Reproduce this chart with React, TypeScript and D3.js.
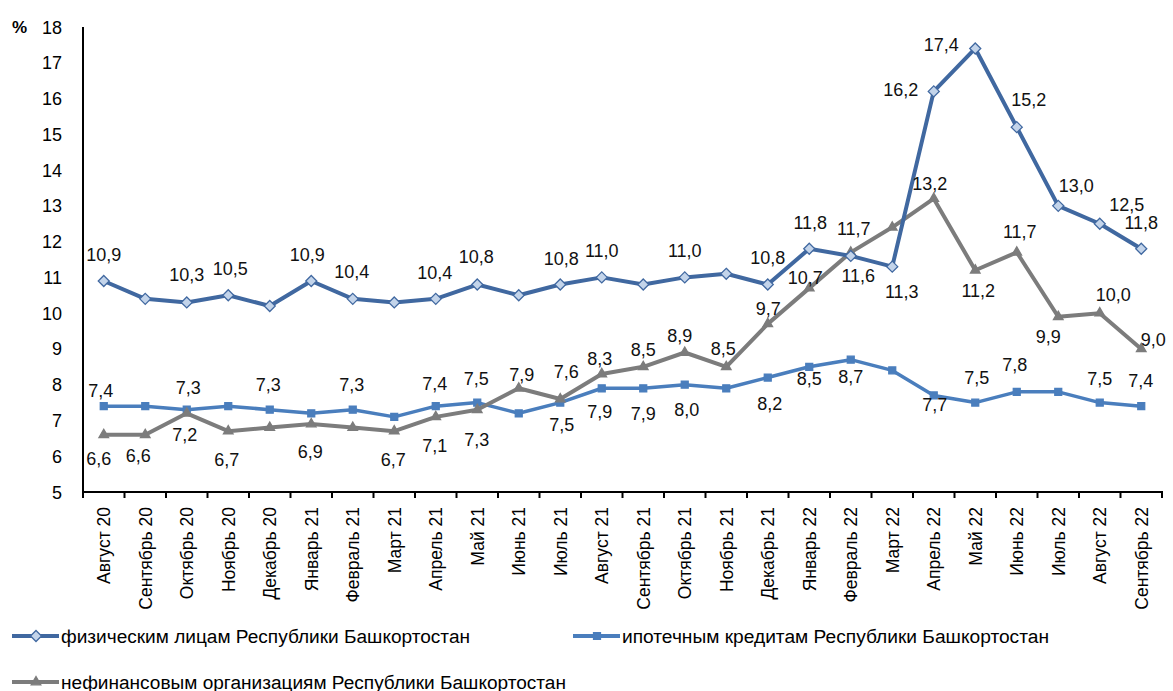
import React from "react";
import * as d3 from "d3";

// месяцы
const months = [
  "Август 20", "Сентябрь 20", "Октябрь 20", "Ноябрь 20", "Декабрь 20",
  "Январь 21", "Февраль 21", "Март 21", "Апрель 21", "Май 21", "Июнь 21",
  "Июль 21", "Август 21", "Сентябрь 21", "Октябрь 21", "Ноябрь 21",
  "Декабрь 21", "Январь 22", "Февраль 22", "Март 22", "Апрель 22", "Май 22",
  "Июнь 22", "Июль 22", "Август 22", "Сентябрь 22",
];

// ставки, %
const individuals = [10.9, 10.4, 10.3, 10.5, 10.2, 10.9, 10.4, 10.3, 10.4, 10.8, 10.5, 10.8, 11.0, 10.8, 11.0, 11.1, 10.8, 11.8, 11.6, 11.3, 16.2, 17.4, 15.2, 13.0, 12.5, 11.8];
const mortgage = [7.4, 7.4, 7.3, 7.4, 7.3, 7.2, 7.3, 7.1, 7.4, 7.5, 7.2, 7.5, 7.9, 7.9, 8.0, 7.9, 8.2, 8.5, 8.7, 8.4, 7.7, 7.5, 7.8, 7.8, 7.5, 7.4];
const nonFinancial = [6.6, 6.6, 7.2, 6.7, 6.8, 6.9, 6.8, 6.7, 7.1, 7.3, 7.9, 7.6, 8.3, 8.5, 8.9, 8.5, 9.7, 10.7, 11.7, 12.4, 13.2, 11.2, 11.7, 9.9, 10.0, 9.0];

const yTicks = [5, 6, 7, 8, 9, 10, 11, 12, 13, 14, 15, 16, 17, 18];

const legendNames = [
  "физическим лицам Республики Башкортостан",
  "ипотечным кредитам Республики Башкортостан",
  "нефинансовым организациям Республики Башкортостан",
];

// смещения подписей данных (null — подписи нет)
type Off = [number, number] | null;
const indLabels: Off[] = [
  [0, -20], null, [0, -21], [2, -20], null, [-4, -20], [-1, -21], null,
  [-1, -19.5], [-1, -22], null, [1, -20], [0, -20], null, [0, -20], null,
  [0, -21], [1, -20], [7.5, 26.5], [9.5, 31.5], [-33, 5], [-34, 3],
  [12, -21], [18, -13.5], [27, -12.5], [0, -20],
];
const mortLabels: Off[] = [
  [-3, -9.5], null, [1.5, -15.5], null, [-1.5, -18.5], null, [-1, -18.5], null,
  [-1, -16], [-1, -18], null, [1.5, 28], [-2, 30], [0, 31.5], [2, 31.5], null,
  [2, 32], [0, 18], [0, 23], null, [1, 15.5], [1.5, -18.5], [-2, -21], null,
  [0, -18], [-0.5, -19.5],
];
const nonFinLabels: Off[] = [
  [-5, 30.5], [-7, 27.5], [-2, 28], [-1.5, 35], null, [-1, 34], null,
  [-1, 34.5], [-1, 35], [-0.5, 36.5], [3, -7], [6, -21], [-2, -9], [0, -11],
  [-5, -11], [-3, -12], [0.5, -8.5], [-4, -4], [3, -17], null, [-4, -9],
  [3, 26.5], [3, -14], [-10, 26.5], [13.5, -12.5], [12, -3],
];

const W = 1173;
const H = 691;
const left = 83;
const right = 1162;
const top = 27;
const bottom = 492;

const DARK = "#4068a0";
const LIGHT = "#4a7ebd";
const GREY = "#7c7c7c";
const FONT = "'Liberation Sans', Arial, sans-serif";
const NARROW = "'Liberation Sans Narrow', 'Liberation Sans', Arial, sans-serif";

const x = d3.scaleBand<string>().domain(months).range([left, right]).padding(0);
const y = d3.scaleLinear().domain([5, 18]).range([bottom, top]);
const cx = (i: number) => (x(months[i]) as number) + x.bandwidth() / 2;
const fmt = (v: number) => d3.format(".1f")(v).replace(".", ",");

const line = d3
  .line<number>()
  .x((_, i) => cx(i))
  .y((d) => y(d));

// ромб как у Excel: квадрат, повёрнутый на 45°
const diamond = "M0,-5.5L5.5,0L0,5.5L-5.5,0Z";
const square = d3.symbol(d3.symbolSquare, 48)();
const triangle = d3.symbol(d3.symbolTriangle, 40)();

type Series = {
  values: number[];
  color: string;
  width: number;
  marker: string;
  fill: string;
  markerStroke: string;
  labels: Off[];
};

const series: Series[] = [
  { values: mortgage, color: LIGHT, width: 3.5, marker: square, fill: LIGHT, markerStroke: LIGHT, labels: mortLabels },
  { values: nonFinancial, color: GREY, width: 4, marker: triangle, fill: GREY, markerStroke: GREY, labels: nonFinLabels },
  { values: individuals, color: DARK, width: 4, marker: diamond, fill: "#c3d4ea", markerStroke: DARK, labels: indLabels },
];

function LegendItem({ lx, ly, color, marker, fill, stroke, text, textLen }: any) {
  return (
    <g>
      <line x1={lx} x2={lx + 47} y1={ly} y2={ly} stroke={color} strokeWidth={4} />
      <path d={marker} transform={`translate(${lx + 24},${ly})`} fill={fill} stroke={stroke} strokeWidth={1.3} />
      <text
        x={lx + 49}
        y={ly + 6.5}
        fontFamily={NARROW}
        fontSize={18}
        textLength={textLen}
        lengthAdjust="spacingAndGlyphs"
        fill="#000"
      >
        {text}
      </text>
    </g>
  );
}

export default function App() {
  const bounds = d3.range(months.length + 1).map((i) => left + i * x.step());
  return (
    <svg
      width={W}
      height={H}
      style={{ position: "absolute", left: 0, top: 0, background: "#fff" }}
    >
      {/* оси */}
      <line x1={left} x2={left} y1={top} y2={bottom} stroke="#000" strokeWidth={2} />
      <line x1={left} x2={right + 1} y1={bottom} y2={bottom} stroke="#000" strokeWidth={2} />
      {bounds.map((b, i) => (
        <line key={i} x1={b} x2={b} y1={bottom} y2={bottom + 6} stroke="#000" strokeWidth={2} />
      ))}
      {yTicks.map((t) => (
        <text key={t} x={62} y={y(t) + 6.5} textAnchor="end" fontFamily={FONT} fontSize={18} fill="#000">
          {t}
        </text>
      ))}
      <text x={12} y={33} fontFamily={FONT} fontSize={17} fontWeight="bold" fill="#000">
        %
      </text>
      {months.map((m, i) => (
        <text
          key={m}
          transform={`translate(${cx(i) + 6.5},${507}) rotate(-90)`}
          textAnchor="end"
          fontFamily={FONT}
          fontSize={17.5}
          fill="#000"
        >
          {m}
        </text>
      ))}

      {/* линии и маркеры */}
      {series.map((s, k) => (
        <g key={k}>
          <path d={line(s.values) || ""} fill="none" stroke={s.color} strokeWidth={s.width} strokeLinejoin="round" />
          {s.values.map((v, i) => (
            <path
              key={i}
              d={s.marker}
              transform={`translate(${cx(i)},${y(v)})`}
              fill={s.fill}
              stroke={s.markerStroke}
              strokeWidth={1.3}
            />
          ))}
        </g>
      ))}

      {/* подписи данных */}
      {series.map((s, k) => (
        <g key={"l" + k}>
          {s.values.map((v, i) => {
            const o = s.labels[i];
            if (!o) return null;
            return (
              <text
                key={i}
                x={cx(i) + o[0]}
                y={y(v) + o[1]}
                textAnchor="middle"
                fontFamily={FONT}
                fontSize={18}
                fill="#111"
              >
                {fmt(v)}
              </text>
            );
          })}
        </g>
      ))}

      {/* легенда */}
      <LegendItem lx={12} ly={636} color={DARK} marker={diamond} fill="#c3d4ea" stroke={DARK} text={legendNames[0]} textLen={409} />
      <LegendItem lx={573} ly={636} color={LIGHT} marker={square} fill={LIGHT} stroke={LIGHT} text={legendNames[1]} textLen={427} />
      <LegendItem lx={12} ly={682} color={GREY} marker={triangle} fill={GREY} stroke={GREY} text={legendNames[2]} textLen={505} />
    </svg>
  );
}
